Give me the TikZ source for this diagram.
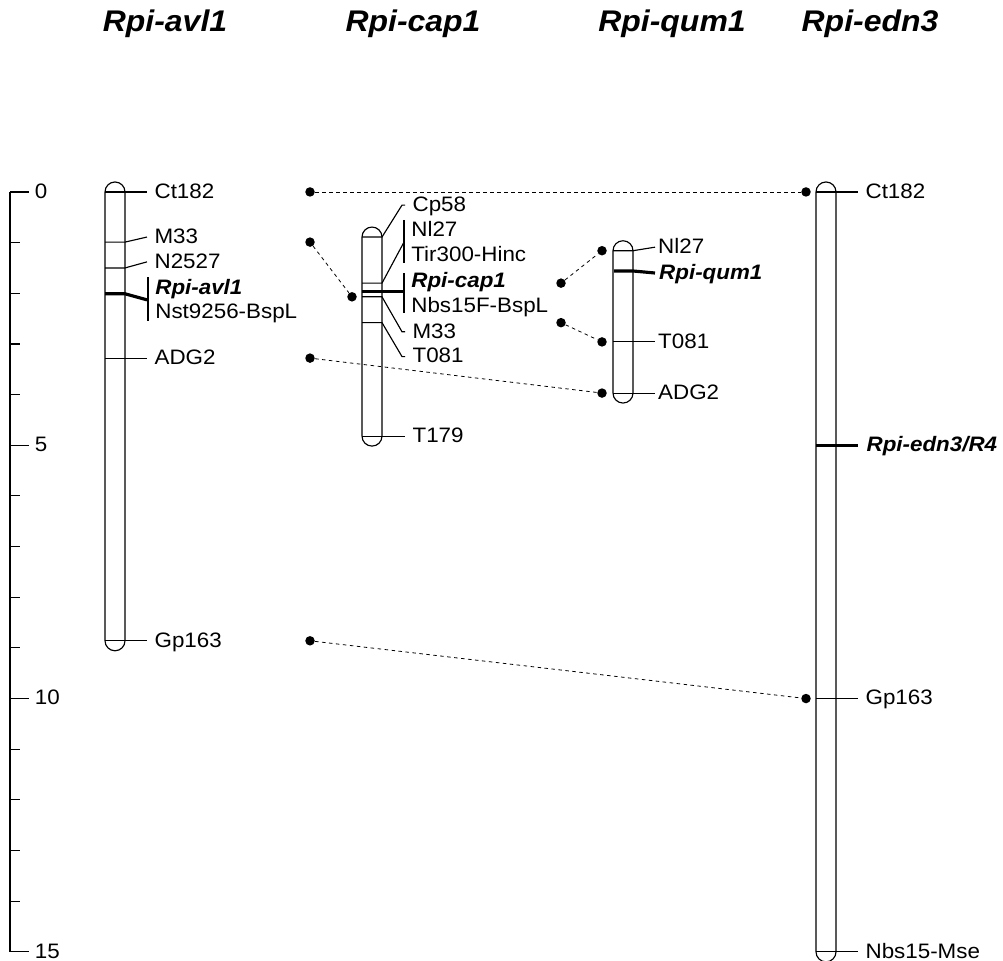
\documentclass[tikz,border=0pt]{standalone}
\usepackage{fontspec}
\setmainfont{Liberation Sans}[FakeStretch=1.07]
\usepackage{tikz}

\begin{document}
\begin{tikzpicture}[x=0.02cm, y=-1.0134cm,
  every node/.style={font=\fontsize{11.9pt}{13pt}\selectfont},
  mk/.style={line width=0.65pt},
  gene/.style={line width=1.8pt},
  chrom/.style={line width=0.65pt, rounded corners=0.2cm},
  lbl/.style={anchor=west, inner xsep=4pt, inner ysep=0pt, text height=0.72em, text depth=0pt},
  glbl/.style={lbl, font=\fontsize{11.9pt}{13pt}\selectfont\bfseries\itshape},
  ttl/.style={anchor=base, font=\fontsize{17pt}{19pt}\selectfont\bfseries\itshape},
  dot/.style={circle, fill, inner sep=0pt, minimum size=0.19cm},
  link/.style={line width=0.45pt, dash pattern=on 0.07cm off 0.07cm}]
  \useasboundingbox (0,-3.789) rectangle (1003,15.177);

  % titles
  \node[ttl] (t-avl) at (165,-3.16) {Rpi-avl1};
  \node[ttl] (t-cap) at (413,-3.16) {Rpi-cap1};
  \node[ttl] (t-qum) at (672,-3.16) {Rpi-qum1};
  \node[ttl] (t-edn) at (870,-3.16) {Rpi-edn3};

  % scale in cM
  \draw[mk] (10,0) -- (10,15);
  \foreach \i in {1,...,14} \draw[mk] (10,\i) -- (20,\i);
  \foreach \i in {0,5,10,15} \draw[mk] (10,\i) -- (29,\i) node[lbl, inner xsep=3pt] (sc-\i) {\i};

  % Rpi-avl1
  \draw[chrom] (105,-0.197) rectangle (125,9.057);
  \foreach \m/\y/\ly/\t in {ct/0/0/Ct182, m33/0.99/0.89/M33, n25/1.5/1.38/N2527, adg/3.28/3.28/ADG2, gp/8.86/8.86/Gp163}
    \draw[mk] (105,\y) -- (125,\y) -- (147,\ly) node[lbl] (avl-\m) {\t};
  \coordinate (avl-b) at (147,2.13);
  \draw[gene] (105,2.01) -- (125,2.01) -- (avl-b);
  \draw[mk] (148,1.68) -- (148,2.55);
  \node[glbl] (avl-r) at (148,1.89) {Rpi-avl1};
  \node[lbl] (avl-n) at (148,2.38) {Nst9256-BspL};

  % Rpi-cap1
  \draw[chrom] (362,0.693) rectangle (382,5.017);
  \draw[mk] (362,0.89) -- (382,0.89) -- (402,0.26) -- (405,0.26) node[lbl] (cap-cp) {Cp58};
  \coordinate (cap-b1) at (404,0.99);
  \draw[mk] (362,1.8) -- (382,1.8) -- (cap-b1);
  \draw[mk] (404,0.55) -- (404,1.40);
  \node[lbl] (cap-nl) at (404,0.75) {Nl27};
  \node[lbl] (cap-tir) at (404,1.24) {Tir300-Hinc};
  \coordinate (cap-b2) at (404,1.97);
  \draw[gene] (362,1.97) -- (cap-b2);
  \draw[mk] (404,1.6) -- (404,2.39);
  \node[glbl] (cap-r) at (404,1.77) {Rpi-cap1};
  \node[lbl] (cap-nbs) at (404,2.25) {Nbs15F-BspL};
  \foreach \m/\y/\ly/\t in {m33/2.07/2.76/M33, t081/2.58/3.25/T081}
    \draw[mk] (362,\y) -- (382,\y) -- (402,\ly) -- (405,\ly) node[lbl] (cap-\m) {\t};
  \draw[mk] (362,4.82) -- (405,4.82) node[lbl] (cap-t179) {T179};

  % Rpi-qum1
  \draw[chrom] (613,0.963) rectangle (633,4.167);
  \draw[mk] (613,1.16) -- (633,1.16) -- (655,1.09) node[lbl, inner xsep=1.5pt] (qum-nl) {Nl27};
  \draw[gene] (614,1.56) -- (633,1.56) -- (655,1.6) node[glbl, inner xsep=1.5pt] (qum-r) {Rpi-qum1};
  \foreach \m/\y/\t in {t081/2.96/T081, adg/3.97/ADG2}
    \draw[mk] (613,\y) -- (655,\y) node[lbl, inner xsep=1.5pt] (qum-\m) {\t};

  % Rpi-edn3
  \draw[chrom] (816,-0.197) rectangle (836,15.197);
  \foreach \m/\y/\t in {ct/0/Ct182, gp/10/Gp163, nbs/15/Nbs15-Mse}
    \draw[mk] (816,\y) -- (858,\y) node[lbl] (edn-\m) {\t};
  \draw[gene] (816,5) -- (858,5) node[glbl] (edn-r) {Rpi-edn3/R4};

  % shared markers
  \foreach \m/\xa/\ya/\xb/\yb in {ct/310/0/806/0, m33/310/0.99/352/2.07, adg/310/3.28/602/3.97,
      gp/310/8.86/806/10, nl/561/1.8/602/1.16, t081/561/2.58/602/2.96} {
    \node[dot] (\m-a) at (\xa,\ya) {};
    \node[dot] (\m-b) at (\xb,\yb) {};
    \draw[link] (\m-a) -- (\m-b);
  }
\end{tikzpicture}
\end{document}
